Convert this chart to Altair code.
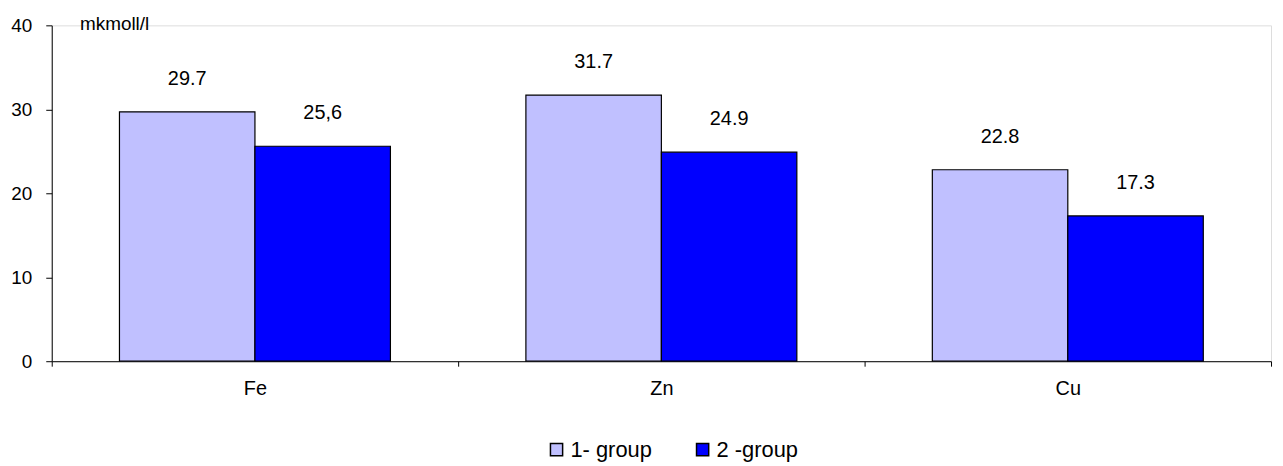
import altair as alt
import pandas as pd

categories = ["Fe", "Zn", "Cu"]
groups = ["1- group", "2 -group"]
group1_values = [29.7, 31.7, 22.8]
group2_values = [25.6, 24.9, 17.3]
group1_labels = ["29.7", "31.7", "22.8"]
group2_labels = ["25,6", "24.9", "17.3"]
colors = ["#C0C0FF", "#0000FF"]

rows = []
for i, c in enumerate(categories):
    rows.append({"category": c, "group": groups[0], "value": group1_values[i], "label": group1_labels[i]})
    rows.append({"category": c, "group": groups[1], "value": group2_values[i], "label": group2_labels[i]})
df = pd.DataFrame(rows)

FONT = "Liberation Sans"

base = alt.Chart(df).encode(
    x=alt.X(
        "category:N",
        sort=categories,
        scale=alt.Scale(paddingInner=0, paddingOuter=0),
        axis=alt.Axis(
            title=None,
            labelAngle=0,
            tickBand="extent",
            tickSize=5,
            tickColor="black",
            domainColor="black",
            labelFontSize=20,
            labelColor="black",
            labelPadding=13,
            labelFont=FONT,
        ),
    ),
    xOffset=alt.XOffset(
        "group:N",
        sort=groups,
        scale=alt.Scale(paddingInner=0, paddingOuter=0.5),
    ),
)

bars = base.mark_bar(stroke="black", strokeWidth=1.2).encode(
    y=alt.Y(
        "value:Q",
        scale=alt.Scale(domain=[0, 40], nice=False),
        axis=alt.Axis(
            values=[0, 10, 20, 30, 40],
            grid=False,
            tickSize=6,
            tickColor="black",
            domainColor="black",
            labelFontSize=19,
            labelColor="black",
            labelPadding=14,
            labelFont=FONT,
            title="mkmoll/l",
            titleAngle=0,
            titleAlign="left",
            titleBaseline="middle",
            titleX=28,
            titleY=-2,
            titleFontSize=19,
            titleFontWeight=400,
            titleColor="black",
            titleFont=FONT,
        ),
    ),
    color=alt.Color(
        "group:N",
        sort=groups,
        scale=alt.Scale(domain=groups, range=colors),
        legend=alt.Legend(
            title=None,
            orient="none",
            direction="horizontal",
            legendX=497,
            legendY=416,
            symbolType="square",
            symbolSize=150,
            symbolStrokeColor="black",
            symbolStrokeWidth=1.5,
            symbolOpacity=1,
            labelFontSize=22,
            labelFont=FONT,
            labelColor="black",
            labelOffset=3,
            columnPadding=40,
            padding=0,
        ),
    ),
)

texts = base.mark_text(dy=-33, baseline="middle", fontSize=20, font=FONT, color="black").encode(
    y=alt.Y("value:Q"),
    text="label:N",
)

chart = (
    alt.layer(bars, texts)
    .properties(
        width=1227,
        height=338,
        autosize=alt.AutoSizeParams(type="none"),
        padding={"left": 44, "top": 16, "right": 4, "bottom": 104},
    )
    .configure_view(stroke=None)
    .configure(font=FONT)
)

chart.save("out.html", embed_options={"renderer": "svg", "actions": False})
